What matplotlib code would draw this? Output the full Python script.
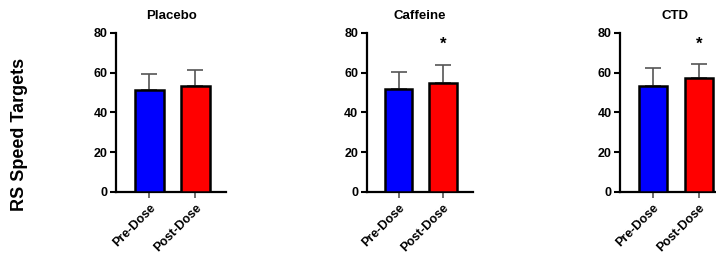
import matplotlib.pyplot as plt

plt.rcParams["font.family"] = ["Liberation Sans", "DejaVu Sans"]
plt.rcParams["font.weight"] = "bold"

# data
conditions = ["Placebo", "Caffeine", "CTD"]
doses = ["Pre-Dose", "Post-Dose"]
means = [[51.3, 53.5], [51.7, 54.6], [53.5, 57.2]]
sds = [[8.0, 7.6], [8.7, 9.5], [8.8, 7.0]]
significant = [[False, False], [False, True], [False, True]]
y_ticks = [0, 20, 40, 60, 80]

colors = ["#0000ff", "#ff0000"]

fig = plt.figure(figsize=(7.16, 2.57), dpi=100)

# left edge / width in figure fraction for each panel
panel_boxes = [(0.162, 0.154), (0.512, 0.148), (0.866, 0.153)]
bottom, height = 0.253, 0.619

for (left, width), cond, m, s, sig in zip(panel_boxes, conditions, means, sds, significant):
    ax = fig.add_axes([left, bottom, width, height])
    x = [0, 1]
    ax.bar(x, m, width=0.62, color=colors, edgecolor="black", linewidth=1.8, zorder=3)
    ax.errorbar(x, m, yerr=[[0, 0], s], fmt="none", ecolor="#555555",
                elinewidth=1.2, capsize=6, capthick=1.2, zorder=2)
    for xi, mi, si, flag in zip(x, m, s, sig):
        if flag:
            ax.text(xi, mi + si + 10, "*", ha="center", va="center",
                    fontsize=12, fontweight="bold")
    ax.set_xlim(-0.72, 1.67)
    ax.set_ylim(0, 80)
    ax.set_yticks(y_ticks)
    ax.set_xticks(x)
    ax.set_xticklabels(doses, rotation=45, ha="right", rotation_mode="anchor",
                       fontsize=9, fontweight="bold")
    ax.tick_params(axis="y", labelsize=9, width=1.5, length=4, pad=2)
    ax.tick_params(axis="x", width=1.2, length=4, color="#555555", pad=3)
    for lab in ax.get_yticklabels():
        lab.set_fontweight("bold")
    for side in ["top", "right"]:
        ax.spines[side].set_visible(False)
    for side in ["left", "bottom"]:
        ax.spines[side].set_linewidth(1.6)
    ax.set_title(cond, fontsize=9.5, fontweight="bold", pad=10)

fig.text(0.027, 0.475, "RS Speed Targets", rotation=90, ha="center", va="center",
         fontsize=13, fontweight="bold")

fig.savefig("out.png", dpi=100)
